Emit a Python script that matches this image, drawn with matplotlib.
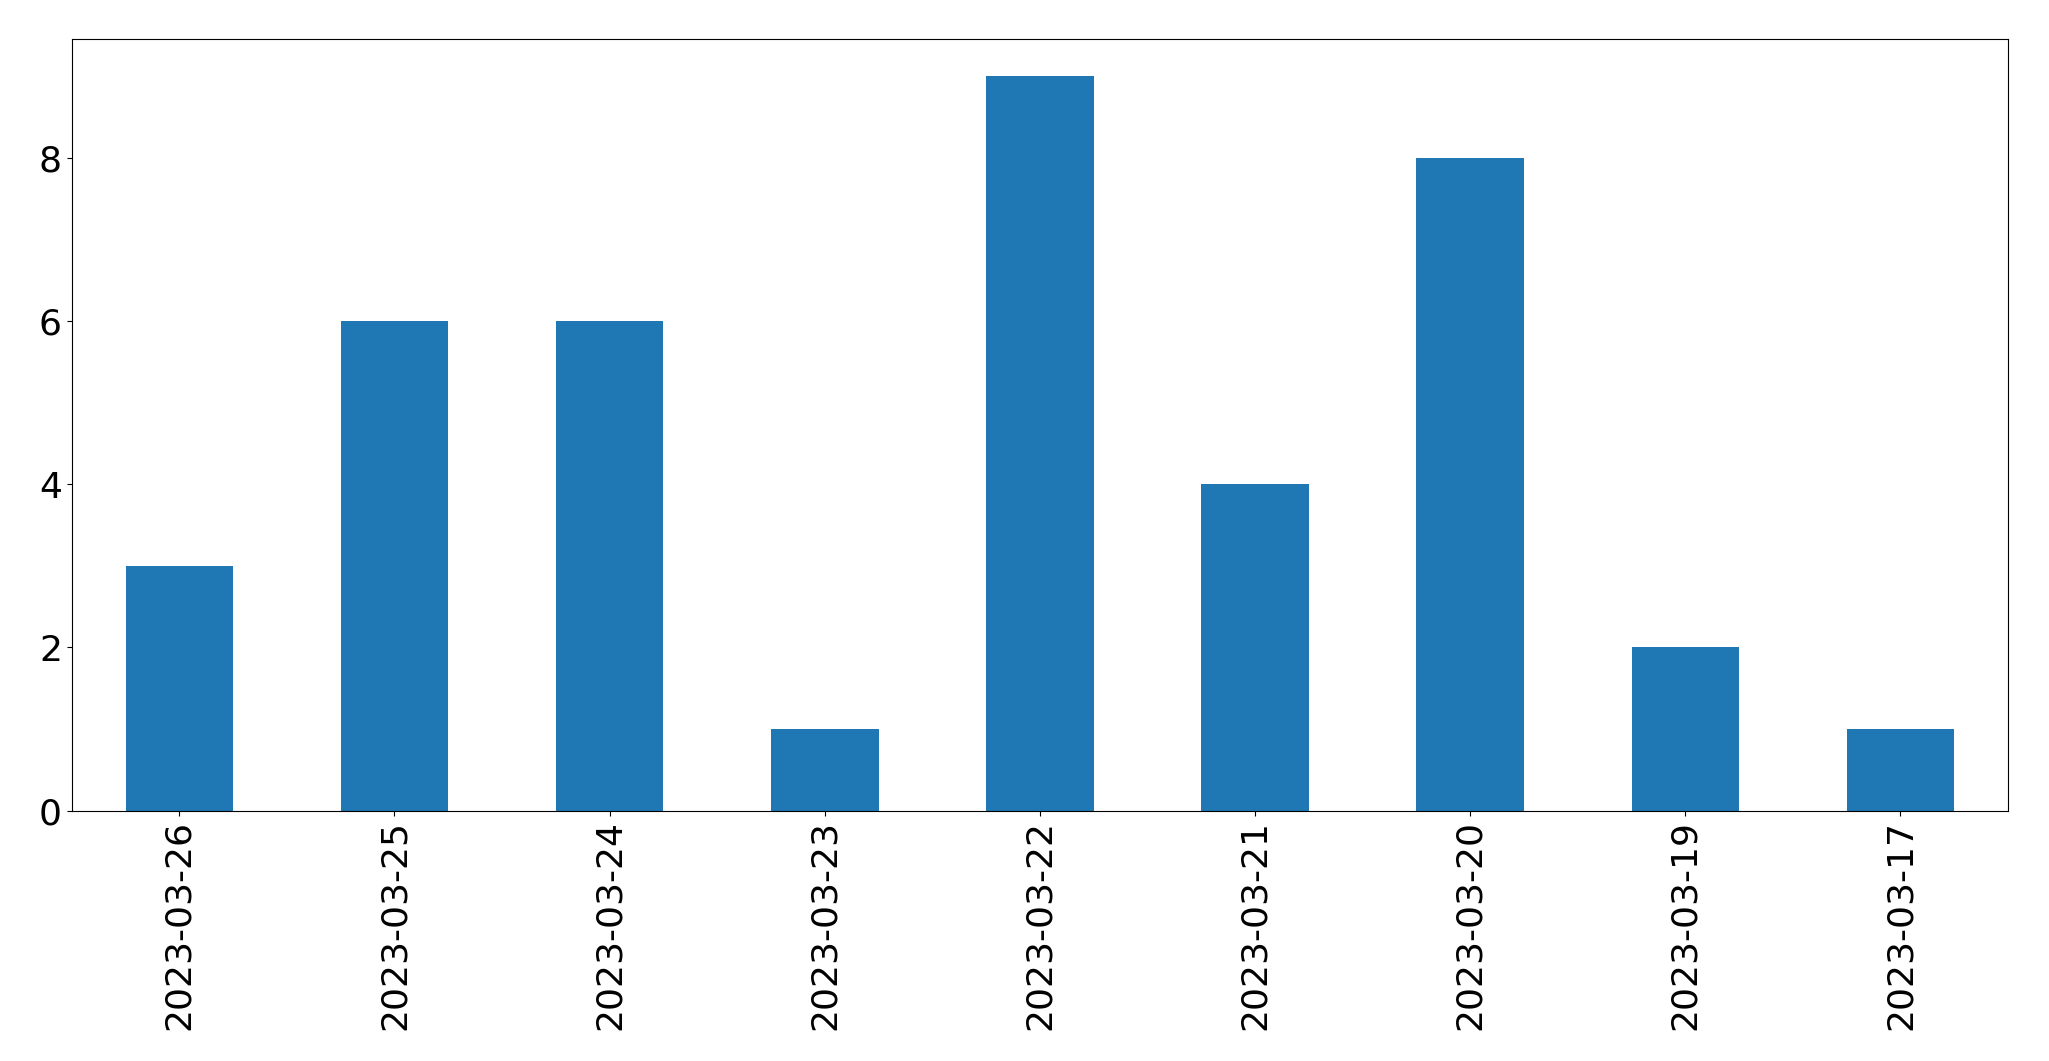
import matplotlib
matplotlib.use("Agg")
import matplotlib.pyplot as plt

dates = ["2023-03-26","2023-03-25","2023-03-24","2023-03-23","2023-03-22","2023-03-21","2023-03-20","2023-03-19","2023-03-17"]
counts = [3,6,6,1,9,4,8,2,1]

fig = plt.figure(figsize=(20.49,10.61), dpi=100)
ax = fig.add_axes([0.035,0.236,0.945,0.727])
x = range(len(dates))
ax.bar(x, counts, width=0.5, color="#1f77b4")
ax.set_xlim(-0.5, len(dates)-0.5)
ax.set_ylim(0, 9.45)
ax.set_xticks(list(x))
ax.set_xticklabels(dates, rotation=90)
ax.set_yticks([0,2,4,6,8])
ax.tick_params(labelsize=26)
fig.savefig("out.png", dpi=100)
